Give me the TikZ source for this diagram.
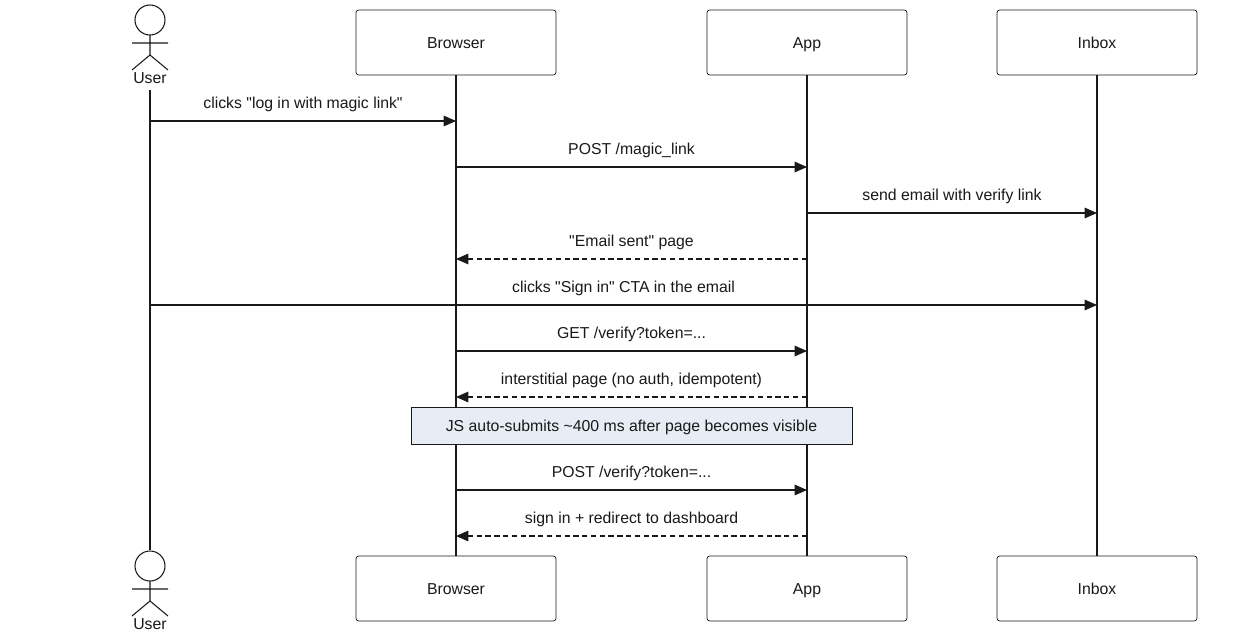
\documentclass[tikz,border=0pt]{standalone}
\usepackage{fontspec}
\setmainfont{Liberation Sans}[Ligatures=NoCommon,Mapping=]
\usetikzlibrary{arrows.meta}
\definecolor{notefill}{RGB}{230,237,245}
\begin{document}
\begin{tikzpicture}[x=0.02cm,y=-0.02cm,
  font=\fontsize{9}{11}\selectfont, color=black!90,
  part/.style={draw, rounded corners=1.5pt, minimum width=4cm, minimum height=1.3cm, inner sep=0pt,
    text height=1.6ex, text depth=0.4ex},
  msg/.style={-{Triangle[length=7pt,width=6pt]}, semithick},
  reply/.style={msg, densely dashed},
  lbl/.style={above=1.5pt, midway}]
\useasboundingbox (0,0) rectangle (1247,632);

% actors
\foreach \n/\y in {top/20, bot/566}{
  \draw[semithick] (150,\y) circle (15);
  \draw[semithick] (150,\y+15) -- (150,\y+35) (132,\y+23) -- (168,\y+23)
    (132,\y+50) -- (150,\y+35) -- (168,\y+50);
}
\node (usertop) at (150,78) {User};
\node (userbot) at (150,624) {User};

% participants
\foreach \n/\x/\t in {browser/456/Browser, app/807/App, inbox/1097/Inbox}{
  \node[part] (\n top) at (\x,42.5) {\t};
  \node[part] (\n bot) at (\x,588.5) {\t};
  \draw[semithick] (\n top) -- (\n bot);
}
\draw[semithick] (150,90) -- (150,550);

% coordinates on lifelines
\foreach \n/\x in {u/150, b/456, a/807, i/1097}
  \foreach \k/\y in {1/121, 2/167, 3/213, 4/259, 5/305, 6/351, 7/397, 8/490, 9/536}
    \coordinate (\n\k) at (\x,\y);

% messages
\draw[msg] (u1) -- (b1) node[lbl] {clicks "log in with magic link"};
\draw[msg] (b2) -- (a2) node[lbl] {POST /magic\_link};
\draw[msg] (a3) -- (i3) node[lbl] {send email with verify link};
\draw[reply] (a4) -- (b4) node[lbl] {"Email sent" page};
\draw[msg] (u5) -- (i5) node[lbl] {clicks "Sign in" CTA in the email};
\draw[msg] (b6) -- (a6) node[lbl] {GET /verify?token=...};
\draw[reply] (a7) -- (b7) node[lbl] {interstitial page (no auth, idempotent)};
\node[draw, fill=notefill, minimum width=8.82cm, minimum height=0.74cm, inner sep=0pt,
  text height=1.6ex, text depth=0.4ex] (note) at (631.5,425.5)
  {JS auto-submits \textasciitilde400 ms after page becomes visible};
\draw[msg] (b8) -- (a8) node[lbl] {POST /verify?token=...};
\draw[reply] (a9) -- (b9) node[lbl] {sign in + redirect to dashboard};
\end{tikzpicture}
\end{document}
